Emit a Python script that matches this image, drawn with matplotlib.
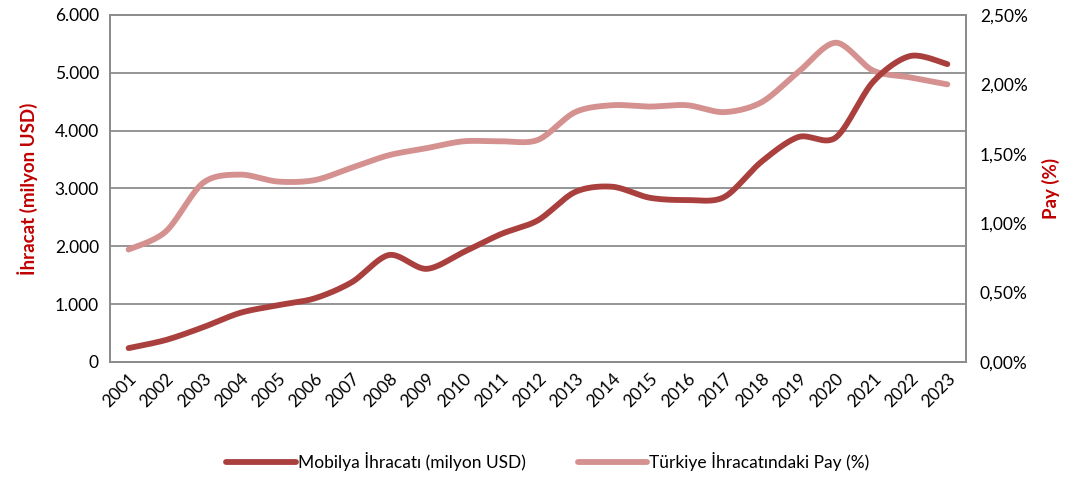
import numpy as np
import matplotlib
matplotlib.use("Agg")
import matplotlib.pyplot as plt
from matplotlib.ticker import FuncFormatter

plt.rcParams['font.family'] = ['Lato', 'DejaVu Sans']

years = [str(y) for y in range(2001, 2024)]
ihracat = [240, 380, 600, 850, 980, 1100, 1380, 1850, 1610, 1900, 2210, 2450,
           2940, 3030, 2840, 2800, 2850, 3460, 3890, 3880, 4840, 5290, 5150]
pay = [0.81, 0.94, 1.29, 1.35, 1.30, 1.31, 1.40, 1.49, 1.54, 1.59, 1.59, 1.60,
       1.80, 1.85, 1.84, 1.85, 1.80, 1.87, 2.09, 2.30, 2.10, 2.05, 2.00]

dark = '#A9403E'
light = '#D4918F'
red = '#C00000'
grid = '#8C8C8C'


def smooth(y, n=30):
    # catmull-rom style smoothing like excel's smoothed line
    y = np.asarray(y, float)
    x = np.arange(len(y), dtype=float)
    px = np.concatenate([[x[0]], x, [x[-1]]])
    py = np.concatenate([[y[0]], y, [y[-1]]])
    xs, ys = [], []
    for i in range(1, len(px) - 2):
        p0, p1, p2, p3 = py[i - 1], py[i], py[i + 1], py[i + 2]
        q0, q1, q2, q3 = px[i - 1], px[i], px[i + 1], px[i + 2]
        t = np.linspace(0, 1, n, endpoint=False)
        m1y, m2y = (p2 - p0) / 2 * 0.9, (p3 - p1) / 2 * 0.9
        m1x, m2x = (q2 - q0) / 2 * 0.9, (q3 - q1) / 2 * 0.9
        h00 = 2 * t**3 - 3 * t**2 + 1
        h10 = t**3 - 2 * t**2 + t
        h01 = -2 * t**3 + 3 * t**2
        h11 = t**3 - t**2
        ys.append(h00 * p1 + h10 * m1y + h01 * p2 + h11 * m2y)
        xs.append(h00 * q1 + h10 * m1x + h01 * q2 + h11 * m2x)
    xs.append([x[-1]])
    ys.append([y[-1]])
    return np.concatenate(xs), np.concatenate(ys)


fig = plt.figure(figsize=(10.74, 4.78), dpi=100)
ax = fig.add_axes([0.1024, 0.2427, 0.797, 0.726])
ax2 = ax.twinx()

# grid from the left axis, drawn on ax2 (behind), lines on ax (front)
ax.set_zorder(ax2.get_zorder() + 1)
ax.patch.set_visible(False)

for v in range(1000, 6000, 1000):
    ax2.axhline(v / 6000 * 2.5, color=grid, lw=1.3, zorder=0)

sx, sy = smooth(ihracat)
ax.plot(sx, sy, color=dark, lw=4.2, solid_capstyle='round', label='Mobilya İhracatı (milyon USD)')
px_, py_ = smooth(pay)
ax2.plot(px_, py_, color=light, lw=4.2, solid_capstyle='round', label='Türkiye İhracatındaki Pay (%)')

ax.set_xlim(-0.5, len(years) - 0.5)
ax.set_ylim(0, 6000)
ax2.set_ylim(0, 2.5)
ax.set_yticks(np.arange(0, 6001, 1000))
ax2.set_yticks(np.arange(0, 2.51, 0.5))
ax.yaxis.set_major_formatter(FuncFormatter(lambda v, p: f'{int(v):,}'.replace(',', '.')))
ax2.yaxis.set_major_formatter(FuncFormatter(lambda v, p: f'{v:.2f}%'.replace('.', ',')))

ax.set_xticks(range(len(years)))
ax.set_xticklabels(years, rotation=45, ha='right', va='top', rotation_mode='anchor')

for a in (ax, ax2):
    a.tick_params(length=0, labelsize=12.5, colors='black')
    for s in a.spines.values():
        s.set_color(grid)
        s.set_linewidth(1.3)
ax.tick_params(axis='y', pad=8)
ax2.tick_params(axis='y', pad=10)
ax.tick_params(axis='x', pad=6)

ax.set_ylabel('İhracat (milyon USD)', color=red, fontsize=13.5, fontweight='bold', labelpad=12)
ax2.set_ylabel('Pay (%)', color=red, fontsize=13.5, fontweight='bold', labelpad=10)

h1, l1 = ax.get_legend_handles_labels()
h2, l2 = ax2.get_legend_handles_labels()
fig.legend(h1 + h2, l1 + l2, loc='center', bbox_to_anchor=(0.51, 0.034), ncol=2,
           frameon=False, fontsize=12.5, handlelength=4, handletextpad=0.1, columnspacing=3)

fig.savefig('out.png', dpi=100)
